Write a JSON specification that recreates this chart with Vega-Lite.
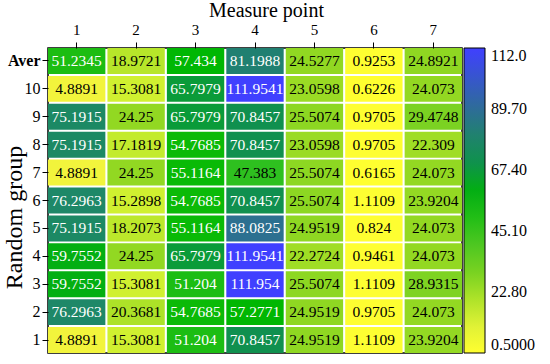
{
  "$schema": "https://vega.github.io/schema/vega-lite/v6.json",
  "autosize": {"type": "none"},
  "padding": {"left": 48, "top": 48, "right": 88, "bottom": 11},
  "width": 414,
  "height": 305,
  "background": "white",
  "config": {
    "font": "Liberation Serif, Times New Roman, serif",
    "view": {"stroke": "black", "strokeWidth": 1.5},
    "axis": {"labelFont": "Liberation Serif, Times New Roman, serif", "titleFont": "Liberation Serif, Times New Roman, serif", "labelColor": "black", "titleColor": "black", "tickColor": "black", "domainColor": "black", "grid": false, "titleFontWeight": "normal"},
    "legend": {"labelFont": "Liberation Serif, Times New Roman, serif"}
  },
  "data": {"values": [
    {"r": "Aver", "c": "1", "v": 51.2345}, {"r": "Aver", "c": "2", "v": 18.9721}, {"r": "Aver", "c": "3", "v": 57.434}, {"r": "Aver", "c": "4", "v": 81.1988}, {"r": "Aver", "c": "5", "v": 24.5277}, {"r": "Aver", "c": "6", "v": 0.9253}, {"r": "Aver", "c": "7", "v": 24.8921},
    {"r": "10", "c": "1", "v": 4.8891}, {"r": "10", "c": "2", "v": 15.3081}, {"r": "10", "c": "3", "v": 65.7979}, {"r": "10", "c": "4", "v": 111.9541}, {"r": "10", "c": "5", "v": 23.0598}, {"r": "10", "c": "6", "v": 0.6226}, {"r": "10", "c": "7", "v": 24.073},
    {"r": "9", "c": "1", "v": 75.1915}, {"r": "9", "c": "2", "v": 24.25}, {"r": "9", "c": "3", "v": 65.7979}, {"r": "9", "c": "4", "v": 70.8457}, {"r": "9", "c": "5", "v": 25.5074}, {"r": "9", "c": "6", "v": 0.9705}, {"r": "9", "c": "7", "v": 29.4748},
    {"r": "8", "c": "1", "v": 75.1915}, {"r": "8", "c": "2", "v": 17.1819}, {"r": "8", "c": "3", "v": 54.7685}, {"r": "8", "c": "4", "v": 70.8457}, {"r": "8", "c": "5", "v": 23.0598}, {"r": "8", "c": "6", "v": 0.9705}, {"r": "8", "c": "7", "v": 22.309},
    {"r": "7", "c": "1", "v": 4.8891}, {"r": "7", "c": "2", "v": 24.25}, {"r": "7", "c": "3", "v": 55.1164}, {"r": "7", "c": "4", "v": 47.383}, {"r": "7", "c": "5", "v": 25.5074}, {"r": "7", "c": "6", "v": 0.6165}, {"r": "7", "c": "7", "v": 24.073},
    {"r": "6", "c": "1", "v": 76.2963}, {"r": "6", "c": "2", "v": 15.2898}, {"r": "6", "c": "3", "v": 54.7685}, {"r": "6", "c": "4", "v": 70.8457}, {"r": "6", "c": "5", "v": 25.5074}, {"r": "6", "c": "6", "v": 1.1109}, {"r": "6", "c": "7", "v": 23.9204},
    {"r": "5", "c": "1", "v": 75.1915}, {"r": "5", "c": "2", "v": 18.2073}, {"r": "5", "c": "3", "v": 55.1164}, {"r": "5", "c": "4", "v": 88.0825}, {"r": "5", "c": "5", "v": 24.9519}, {"r": "5", "c": "6", "v": 0.824}, {"r": "5", "c": "7", "v": 24.073},
    {"r": "4", "c": "1", "v": 59.7552}, {"r": "4", "c": "2", "v": 24.25}, {"r": "4", "c": "3", "v": 65.7979}, {"r": "4", "c": "4", "v": 111.9541}, {"r": "4", "c": "5", "v": 22.2724}, {"r": "4", "c": "6", "v": 0.9461}, {"r": "4", "c": "7", "v": 24.073},
    {"r": "3", "c": "1", "v": 59.7552}, {"r": "3", "c": "2", "v": 15.3081}, {"r": "3", "c": "3", "v": 51.204}, {"r": "3", "c": "4", "v": 111.954}, {"r": "3", "c": "5", "v": 25.5074}, {"r": "3", "c": "6", "v": 1.1109}, {"r": "3", "c": "7", "v": 28.9315},
    {"r": "2", "c": "1", "v": 76.2963}, {"r": "2", "c": "2", "v": 20.3681}, {"r": "2", "c": "3", "v": 54.7685}, {"r": "2", "c": "4", "v": 57.2771}, {"r": "2", "c": "5", "v": 24.9519}, {"r": "2", "c": "6", "v": 0.9705}, {"r": "2", "c": "7", "v": 24.073},
    {"r": "1", "c": "1", "v": 4.8891}, {"r": "1", "c": "2", "v": 15.3081}, {"r": "1", "c": "3", "v": 51.204}, {"r": "1", "c": "4", "v": 70.8457}, {"r": "1", "c": "5", "v": 24.9519}, {"r": "1", "c": "6", "v": 1.1109}, {"r": "1", "c": "7", "v": 23.9204}
  ]},
  "encoding": {
    "x": {"field": "c", "type": "ordinal", "sort": ["1","2","3","4","5","6","7"],
      "scale": {"paddingInner": 0.035, "paddingOuter": 0},
      "axis": {"orient": "top", "title": "Measure point", "labelAngle": 0, "labelFontSize": 15, "titleFontSize": 20, "tickSize": 6, "labelPadding": 5, "domain": false, "titleX": 218, "titleY": -32, "titleBaseline": "alphabetic", "titlePadding": 0}},
    "y": {"field": "r", "type": "ordinal", "sort": ["Aver","10","9","8","7","6","5","4","3","2","1"],
      "scale": {"paddingInner": 0.07, "paddingOuter": 0},
      "axis": {"title": "Random group", "labelFontSize": 16, "titleFontSize": 24, "tickSize": 6, "labelPadding": 2, "domain": false, "titleX": -27, "titleY": 169, "titleAngle": -90, "titleAlign": "center", "titleBaseline": "alphabetic",
        "labelFontWeight": {"condition": {"test": "datum.value === 'Aver'", "value": "bold"}, "value": "normal"}}}
  },
  "layer": [
    {"mark": {"type": "rect"},
     "encoding": {"color": {"field": "v", "type": "quantitative",
       "scale": {"domain": [0.5, 5, 15.3, 24.25, 47, 57, 66, 71, 76, 81, 88, 112], "range": ["#ffff30", "#f2f43c", "#d0f030", "#92d822", "#30c020", "#00b800", "#0a9a3a", "#109050", "#1e8868", "#208070", "#2c7090", "#4040ff"], "interpolate": "rgb"},
       "legend": {"title": null, "orient": "right", "offset": 2, "gradientLength": 305, "gradientThickness": 21, "gradientStrokeColor": "black", "gradientStrokeWidth": 1, "values": [0.5, 22.8, 45.1, 67.4, 89.7, 112], "format": ".4r", "labelFontSize": 16, "labelColor": "black", "labelOffset": 6, "padding": 0}}}},
    {"mark": {"type": "text", "fontSize": 15.5},
     "encoding": {"text": {"field": "v", "type": "nominal"},
       "color": {"condition": {"test": "datum.v > 50", "value": "white"}, "value": "black"}}}
  ]
}
